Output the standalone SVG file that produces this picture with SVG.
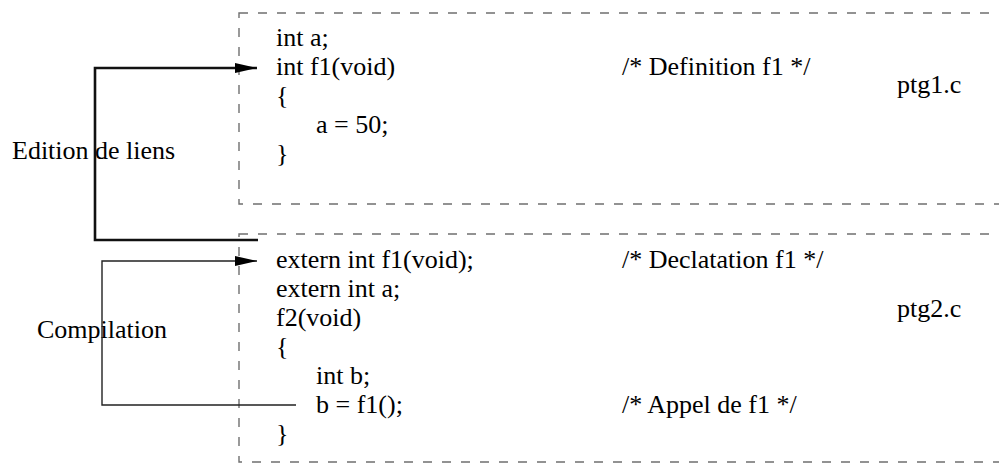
<svg xmlns="http://www.w3.org/2000/svg" width="999" height="463" viewBox="0 0 999 463">
<style>
text{font-family:"Liberation Serif","Times New Roman",serif;font-size:26px;fill:#000}
.box{fill:none;stroke:#6f6f6f;stroke-width:1.4;stroke-dasharray:9 10}
.thick{fill:none;stroke:#111;stroke-width:2.6}
.thin{fill:none;stroke:#222;stroke-width:1.4}
</style>
<defs>
<marker id="arr" markerUnits="userSpaceOnUse" markerWidth="24" markerHeight="12" refX="22" refY="5" orient="auto">
<path d="M0,0 L22,5 L0,10 Z" fill="#000"/>
</marker>
</defs>
<rect width="999" height="463" fill="#fff"/>
<g id="ptg1">
<rect class="box" x="239" y="13" width="790" height="191"/>
<text x="276" y="46">int a;</text>
<text x="276" y="75">int f1(void)</text>
<text x="276" y="104">{</text>
<text x="316" y="133">a = 50;</text>
<text x="276" y="162">}</text>
<text x="622" y="75">/* Definition f1 */</text>
<text x="897" y="93">ptg1.c</text>
</g>
<g id="ptg2">
<rect class="box" x="239" y="234" width="790" height="228"/>
<text x="276" y="268">extern int f1(void);</text>
<text x="276" y="297">extern int a;</text>
<text x="276" y="326">f2(void)</text>
<text x="276" y="355">{</text>
<text x="316" y="384">int b;</text>
<text x="316" y="413">b = f1();</text>
<text x="276" y="442">}</text>
<text x="622" y="268">/* Declatation f1 */</text>
<text x="897" y="317">ptg2.c</text>
<text x="622" y="413">/* Appel de f1 */</text>
</g>
<g id="label-edition">
<text x="12" y="159">Edition de liens</text>
</g>
<g id="label-compilation">
<text x="37" y="338">Compilation</text>
</g>
<g id="connectors">
<path class="thick" d="M258,240 L95,240 L95,68 L257,68" marker-end="url(#arr)"/>
<path class="thin" d="M296,405 L102,405 L102,261 L257,261" marker-end="url(#arr)"/>
</g>
</svg>
